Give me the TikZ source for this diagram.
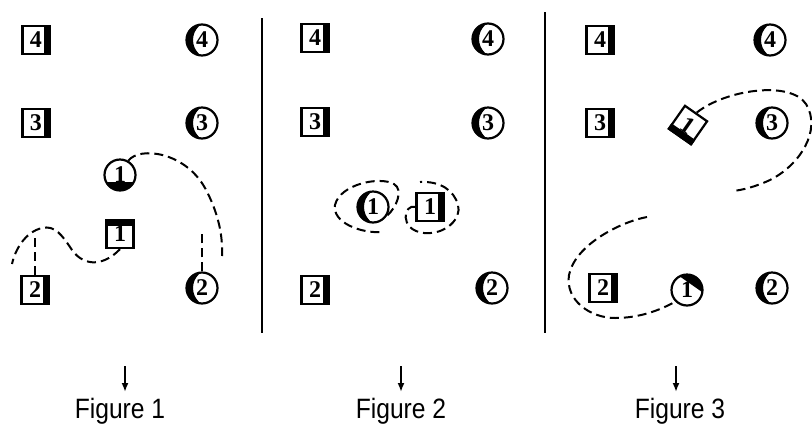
\documentclass[tikz,border=0pt]{standalone}
\usepackage{fontspec}
\newfontfamily\capfont{Liberation Sans}
\newfontfamily\digitfont{Liberation Serif}
\usetikzlibrary{calc, arrows.meta}
\tikzset{
  piece/.style={draw, line width=2.2pt, inner sep=0pt,
    font=\digitfont\bfseries\fontsize{24}{24}\selectfont},
  sq/.style={piece, rectangle, minimum width=27pt, minimum height=28pt},
  sqr/.style={sq, path picture={\fill (path picture bounding box.north east)
    rectangle ([xshift=-6pt]path picture bounding box.south east);}},
  sqt/.style={sq, path picture={\fill (path picture bounding box.north west)
    rectangle ([yshift=-6pt]path picture bounding box.north east);}},
  disc/.style={piece, circle, minimum size=31pt},
  discl/.style={disc, path picture={\fill[even odd rule]
    (path picture bounding box.center) circle (20pt)
    ([xshift=10pt]path picture bounding box.center) circle (19pt);}},
  discb/.style={disc, path picture={\fill (path picture bounding box.south west)
    rectangle ([yshift=9pt]path picture bounding box.south east);}},
  disctr/.style={disc, path picture={\fill (path picture bounding box.center)
    ++(55:7pt) ++(-35:20pt) -- ++(145:40pt) -- ++(55:20pt) -- ++(-35:40pt) -- cycle;}},
  trail/.style={dash pattern=on 9pt off 5pt, line width=2pt},
  caption/.style={font=\capfont\fontsize{28}{28}\selectfont, xscale=0.88, anchor=base}
}

\begin{document}
\begin{tikzpicture}[x=1pt, y=-1pt]
    \useasboundingbox (0,0) rectangle (812,424);

    %Figure 1
    \node[sqr] (s4a) at (36,40) {4};
    \node[discl] (c4a) at (202,40) {4};
    \node[sqr] (s3a) at (36,123) {3};
    \node[discl] (c3a) at (202,123) {3};
    \node[discb] (c1a) at (120,175) {1};
    \node[sqt] (s1a) at (120,234) {1};
    \node[sqr] (s2a) at (35,290) {2};
    \node[discl] (c2a) at (202,288) {2};

    \draw[trail] (c1a.60) .. controls (140,146) and (185,152) .. (205,188)
        .. controls (218,212) and (223,235) .. (222,256);
    \draw[trail] (c2a.north) -- ++(0,-38);
    \draw[trail] (s1a.south) .. controls (105,265) and (85,268) .. (72,250)
        .. controls (62,235) and (55,225) .. (42,228)
        .. controls (25,232) and (15,250) .. (12,264);
    \draw[trail] (s2a.north) -- ++(0,-40);

    %Linien
    \draw[line width=2pt] (262,18) -- (262,333);
    \draw[line width=2pt] (545,12) -- (545,333);

    %Figure 2
    \node[sqr] (s4b) at (315,38) {4};
    \node[discl] (c4b) at (488,39) {4};
    \node[sqr] (s3b) at (315,122) {3};
    \node[discl] (c3b) at (488,123) {3};
    \node[discl] (c1b) at (373,207) {1};
    \node[sqr] (s1b) at (430,207) {1};
    \node[sqr] (s2b) at (315,290) {2};
    \node[discl] (c2b) at (492,288) {2};

    \draw[trail] (c1b.-30) .. controls (396,208) and (404,190) .. (394,184)
        .. controls (380,176) and (340,184) .. (335,205)
        .. controls (332,222) and (360,234) .. (384,232);
    \draw[trail] (s1b.west) .. controls (404,203) and (398,230) .. (424,233)
        .. controls (446,235) and (462,218) .. (458,205)
        .. controls (454,190) and (440,181) .. (420,182);

    %Figure 3
    \node[sqr] (s4c) at (600,40) {4};
    \node[discl] (c4c) at (770,40) {4};
    \node[sqr] (s3c) at (600,123) {3};
    \node[sq, rotate=-35] (s1c) at (688,125) {1};
    \fill (s1c.south west) -- (s1c.south east)
        -- ($(s1c.south east)!7pt!(s1c.north east)$)
        -- ($(s1c.south west)!7pt!(s1c.north west)$) -- cycle;
    \node[discl] (c3c) at (772,123) {3};
    \node[sqr] (s2c) at (603,288) {2};
    \node[disctr] (c1c) at (687,290) {1};
    \node[discl] (c2c) at (772,288) {2};

    \coordinate (e1) at (733,191);
    \coordinate (e2) at (647,217);
    \draw[trail] (s1c.north) .. controls (725,90) and (790,80) .. (806,104)
        .. controls (822,130) and (800,165) .. (770,180)
        .. controls (755,187) and (742,190) .. (e1);
    \draw[trail] (e2) .. controls (620,222) and (575,245) .. (569,275)
        .. controls (565,300) and (590,318) .. (615,318)
        .. controls (640,318) and (660,310) .. (c1c.225);

    %Legende
    \node[caption] (f1) at (120,418) {Figure 1};
    \node[caption] (f2) at (401,418) {Figure 2};
    \node[caption] (f3) at (680,418) {Figure 3};
    \draw[-{Latex[length=9pt, width=7pt]}, line width=1.8pt] (125,366) -- (125,392);
    \draw[-{Latex[length=9pt, width=7pt]}, line width=1.8pt] (401,366) -- (401,392);
    \draw[-{Latex[length=9pt, width=7pt]}, line width=1.8pt] (676,366) -- (676,392);

\end{tikzpicture}
\end{document}
